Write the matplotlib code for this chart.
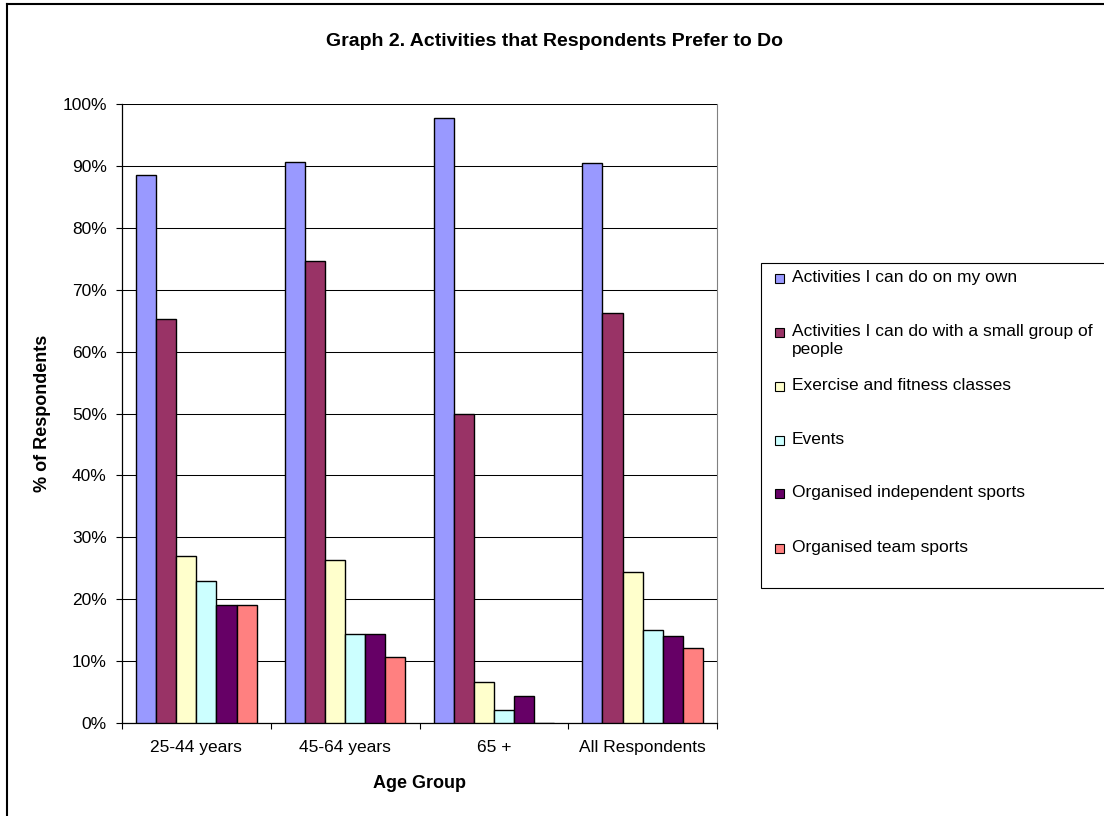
import numpy as np
import matplotlib
matplotlib.use("Agg")
from matplotlib import pyplot as plt
from matplotlib.patches import Rectangle
from matplotlib.lines import Line2D
from matplotlib.ticker import PercentFormatter

plt.rcParams['font.family'] = ['Liberation Sans', 'DejaVu Sans']

groups = ['25-44 years', '45-64 years', '65 +', 'All Respondents']

activities = [
    'Activities I can do on my own',
    'Activities I can do with a small group of\npeople',
    'Exercise and fitness classes',
    'Events',
    'Organised independent sports',
    'Organised team sports',
]

# % of respondents, one list per activity (order follows groups)
own_activities = [88.6, 90.7, 97.7, 90.4]
small_group = [65.2, 74.6, 49.9, 66.2]
fitness_classes = [26.9, 26.3, 6.6, 24.4]
events = [22.9, 14.3, 2.1, 15.1]
indep_sports = [19.0, 14.3, 4.3, 14.1]
team_sports = [19.0, 10.7, 0.0, 12.1]

series = [own_activities, small_group, fitness_classes, events, indep_sports, team_sports]
colours = ['#9999FF', '#993366', '#FFFFCC', '#CCFFFF', '#660066', '#FF8080']

W, H = 1104, 816
fig = plt.figure(figsize=(W / 100, H / 100), dpi=100)
fig.patch.set_facecolor('white')

# plot area in pixels: left 122, right 717, top 104, bottom 723
ax = fig.add_axes([122 / W, 1 - 723 / H, (717 - 122) / W, (723 - 104) / H])

x = np.arange(len(groups))
bw = 0.135
for i, (vals, col) in enumerate(zip(series, colours)):
    offs = (i - (len(series) - 1) / 2) * bw
    ax.bar(x + offs, vals, width=bw, color=col, edgecolor='black', linewidth=1.0, zorder=3)

ax.set_xlim(-0.5, len(groups) - 0.5)
ax.set_ylim(0, 100)
ax.set_yticks(range(0, 101, 10))
ax.yaxis.set_major_formatter(PercentFormatter(decimals=0))
ax.yaxis.grid(True, color='black', linewidth=0.75, zorder=0)
ax.set_axisbelow(True)

ax.set_xticks(x)
ax.set_xticklabels(groups, fontsize=12.5)
ax.set_xticks(np.arange(-0.5, len(groups)), minor=True)
ax.tick_params(axis='x', which='major', length=0, pad=12)
ax.tick_params(axis='x', which='minor', length=4, width=0.8, direction='out')
ax.tick_params(axis='y', length=4, width=0.8, direction='out', pad=7, labelsize=12.5)

ax.spines['top'].set_visible(False)
ax.spines['right'].set_color('#808080')
ax.spines['left'].set_linewidth(0.9)
ax.spines['bottom'].set_linewidth(0.9)

ax.set_xlabel('Age Group', fontsize=13, fontweight='bold', labelpad=15)
ax.set_ylabel('% of Respondents', fontsize=13, fontweight='bold', labelpad=8)

fig.text(554 / W, 1 - 41 / H, 'Graph 2. Activities that Respondents Prefer to Do',
         ha='center', va='center', fontsize=14, fontweight='bold')

# legend box drawn by hand, Excel style with spread entries
fig.patches.append(Rectangle((761 / W, 1 - 588 / H), (W - 761) / W + 0.01, (588 - 263) / H,
                             transform=fig.transFigure, facecolor='white',
                             edgecolor='black', linewidth=0.8))
entry_y = [278, 332, 386, 440, 493, 548]
for lab, col, yy in zip(activities, colours, entry_y):
    fig.patches.append(Rectangle((775 / W, 1 - (yy + 5) / H), 9 / W, 9 / H,
                                 transform=fig.transFigure, facecolor=col,
                                 edgecolor='black', linewidth=0.8))
    fig.text(792 / W, 1 - (yy - 8) / H, lab, ha='left', va='top',
             fontsize=12.5, linespacing=1.25)

# outer chart border (runs off the right and bottom edges)
fig.lines.append(Line2D([7 / W, 1.01], [1 - 4 / H] * 2, transform=fig.transFigure,
                        color='black', linewidth=1.5))
fig.lines.append(Line2D([7 / W] * 2, [1 - 4 / H, -0.01], transform=fig.transFigure,
                        color='black', linewidth=1.5))

fig.savefig('out.png', dpi=100)
